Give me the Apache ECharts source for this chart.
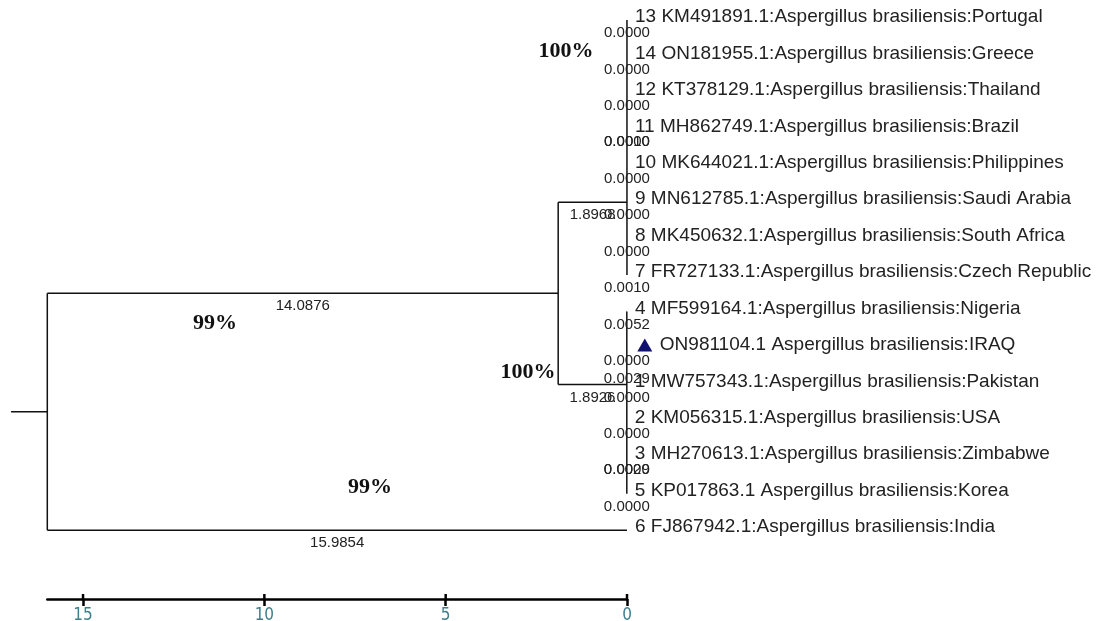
<!DOCTYPE html>
<html>
<head>
<meta charset="utf-8">
<script src="https://cdn.jsdelivr.net/npm/echarts@6/dist/echarts.min.js"></script>
<style>
html,body{margin:0;padding:0;background:#fff;}
#chart{width:1096px;height:621px;}
</style>
</head>
<body>
<div id="chart"></div>
<script>
// ---------------- DATA ----------------
const tipLabels = [
  "13 KM491891.1:Aspergillus brasiliensis:Portugal",
  "14 ON181955.1:Aspergillus brasiliensis:Greece",
  "12 KT378129.1:Aspergillus brasiliensis:Thailand",
  "11 MH862749.1:Aspergillus brasiliensis:Brazil",
  "10 MK644021.1:Aspergillus brasiliensis:Philippines",
  "9 MN612785.1:Aspergillus brasiliensis:Saudi Arabia",
  "8 MK450632.1:Aspergillus brasiliensis:South Africa",
  "7 FR727133.1:Aspergillus brasiliensis:Czech Republic",
  "4 MF599164.1:Aspergillus brasiliensis:Nigeria",
  "ON981104.1 Aspergillus brasiliensis:IRAQ",
  "1 MW757343.1:Aspergillus brasiliensis:Pakistan",
  "2 KM056315.1:Aspergillus brasiliensis:USA",
  "3 MH270613.1:Aspergillus brasiliensis:Zimbabwe",
  "5 KP017863.1 Aspergillus brasiliensis:Korea",
  "6 FJ867942.1:Aspergillus brasiliensis:India"
];
// branch length of each tip's own branch (India hangs straight from the root)
const tipBranchLengths = [0.0000, 0.0000, 0.0000, 0.0000, 0.0000, 0.0000, 0.0000, 0.0010,
                          0.0052, 0.0000, 0.0000, 0.0000, 0.0000, 0.0000, 15.9854];
const markedTips = [9];                        // tip with the triangle marker (study isolate)

// clades: first tip row, last tip row, row where the stem joins, stem length
const cladeNames      = ["A", "B"];
const cladeFirstRow   = [0, 8];
const cladeLastRow    = [7, 13];
const cladeJoinRow    = [5, 10];
const cladeStemLength = [1.8968, 1.8926];
const innerStemLength = 14.0876;               // root -> node joining clades A and B

// zero-length nested branches inside the clades (row, length)
const nestedRows    = [3, 9.5, 12];
const nestedLengths = [0.0010, 0.0029, 0.0029];

// bootstrap support values
const bootstrapLabels = ["99%", "99%", "100%", "100%"];

// scale bar tick labels
const scaleTicks = [0, 5, 10, 15];

// ---------------- LAYOUT ----------------
const ROW_MAX = 15.89;        // y-axis extent in row units (grid bottom = scale bar)
const STEM = 1.0;             // root stem drawn to the left
const bootstrapPos = [[11.36, 8.32], [7.09, 12.82], [1.68, 0.85], [2.73, 9.66]]; // [axis value, row]

// ---------------- TREE BUILD ----------------
const indiaIdx = tipLabels.length - 1;
const treeHeight = tipBranchLengths[indiaIdx];           // deepest tip from root
const X = d => treeHeight - d;                            // depth from root -> axis value (distance from tips)

const innerRow = (cladeJoinRow[0] + cladeJoinRow[1]) / 2;
const rootRow = (innerRow + indiaIdx) / 2;

const segments = [];
const seg = (d1, r1, d2, r2) => segments.push([X(d1), r1, X(d2), r2]);
const brLabels = [];          // [axis value of midpoint, row, text]
const addBr = (d1, d2, row, len) => brLabels.push([X((d1 + d2) / 2), row, len.toFixed(4)]);

seg(-STEM, rootRow, 0, rootRow);
seg(0, innerRow, 0, indiaIdx);
seg(0, innerRow, innerStemLength, innerRow);
addBr(0, innerStemLength, innerRow, innerStemLength);
seg(0, indiaIdx, tipBranchLengths[indiaIdx], indiaIdx);
addBr(0, tipBranchLengths[indiaIdx], indiaIdx, tipBranchLengths[indiaIdx]);
seg(innerStemLength, cladeJoinRow[0], innerStemLength, cladeJoinRow[1]);

const tipDepth = [];
cladeNames.forEach((c, i) => {
  const d = innerStemLength + cladeStemLength[i];
  seg(innerStemLength, cladeJoinRow[i], d, cladeJoinRow[i]);
  addBr(innerStemLength, d, cladeJoinRow[i], cladeStemLength[i]);
  seg(d, cladeFirstRow[i], d, cladeLastRow[i]);
  for (let r = cladeFirstRow[i]; r <= cladeLastRow[i]; r++) {
    const td = d + tipBranchLengths[r];
    tipDepth[r] = td;
    seg(d, r, td, r);
    addBr(d, td, r, tipBranchLengths[r]);
  }
});
tipDepth[indiaIdx] = tipBranchLengths[indiaIdx];
nestedRows.forEach((r, i) => {
  const d = innerStemLength + cladeStemLength[r < cladeFirstRow[1] ? 0 : 1];
  addBr(d, d, r, nestedLengths[i]);
});

const tipData = tipLabels.map((t, i) => [X(tipDepth[i]), i, t, markedTips.indexOf(i) >= 0 ? 1 : 0]);
const markerData = markedTips.map(i => [X(tipDepth[i]), i]);
const bootData = bootstrapLabels.map((t, i) => [bootstrapPos[i][0], bootstrapPos[i][1], t]);
const tickData = scaleTicks.map(v => [v, ROW_MAX]);

// ---------------- CHART ----------------
const chart = echarts.init(document.getElementById('chart'), null, {renderer: 'canvas'});
const SANS = '"Liberation Sans", Arial, sans-serif';

chart.setOption({
  animation: false,
  backgroundColor: '#ffffff',
  grid: {left: 47.3, right: 469, top: 20, bottom: 22, containLabel: false, outerBoundsMode: 'none'},
  xAxis: {
    type: 'value', min: 0, max: treeHeight, inverse: true, position: 'bottom',
    splitLine: {show: false},
    axisLine: {show: true, onZero: false, lineStyle: {color: '#000', width: 2.5}},
    axisTick: {show: true, inside: false, length: 7, customValues: scaleTicks, lineStyle: {color: '#000', width: 2.5}},
    axisLabel: {show: true, customValues: scaleTicks, margin: 8, color: '#3d7f8c',
                fontFamily: '"Liberation Sans Narrow", "DejaVu Sans Condensed", sans-serif', fontSize: 17}
  },
  yAxis: {type: 'value', min: 0, max: ROW_MAX, inverse: true, show: false},
  series: [
    {
      type: 'custom', name: 'branches', clip: false, silent: true,
      data: segments,
      encode: {x: [0, 2], y: [1, 3]},
      renderItem: (params, api) => {
        const p1 = api.coord([api.value(0), api.value(1)]);
        const p2 = api.coord([api.value(2), api.value(3)]);
        return {type: 'line', shape: {x1: p1[0], y1: p1[1], x2: p2[0], y2: p2[1]},
                style: {stroke: '#111', lineWidth: 1.5}};
      }
    },
    {
      // upper half of the scale-bar ticks (ticks cross the bar)
      type: 'custom', name: 'scale ticks', clip: false, silent: true,
      data: tickData,
      encode: {x: 0, y: 1},
      renderItem: (params, api) => {
        const p = api.coord([api.value(0), api.value(1)]);
        return {type: 'line', shape: {x1: p[0], y1: p[1], x2: p[0], y2: p[1] - 5},
                style: {stroke: '#000', lineWidth: 2.5}};
      }
    },
    {
      type: 'custom', name: 'branch lengths', clip: false, silent: true,
      data: brLabels,
      encode: {x: 0, y: 1},
      renderItem: (params, api) => {
        const p = api.coord([api.value(0), api.value(1)]);
        return {type: 'text', x: p[0], y: p[1] + 13,
                style: {text: brLabels[params.dataIndex][2], font: '15px ' + SANS, fill: '#222',
                        align: 'center', verticalAlign: 'middle'}};
      }
    },
    {
      type: 'custom', name: 'tips', clip: false, silent: true,
      data: tipData,
      encode: {x: 0, y: 1},
      renderItem: (params, api) => {
        const p = api.coord([api.value(0), api.value(1)]);
        const off = tipData[params.dataIndex][3] ? 33 : 8;
        return {type: 'text', x: p[0] + off, y: p[1] - 3,
                style: {text: tipData[params.dataIndex][2], font: '19px ' + SANS, fill: '#222',
                        align: 'left', verticalAlign: 'middle'}};
      }
    },
    {
      type: 'scatter', name: 'marker', silent: true,
      data: markerData, symbol: 'triangle', symbolSize: [15, 13], symbolOffset: [18, -3],
      itemStyle: {color: '#101070', opacity: 1}, clip: false
    },
    {
      type: 'custom', name: 'bootstrap', clip: false, silent: true,
      data: bootData,
      encode: {x: 0, y: 1},
      renderItem: (params, api) => {
        const p = api.coord([api.value(0), api.value(1)]);
        return {type: 'text', x: p[0], y: p[1],
                style: {text: bootData[params.dataIndex][2], font: 'bold 22px "Liberation Serif", "Times New Roman", serif',
                        fill: '#111', align: 'center', verticalAlign: 'middle'}};
      }
    }
  ]
});
</script>
</body>
</html>
